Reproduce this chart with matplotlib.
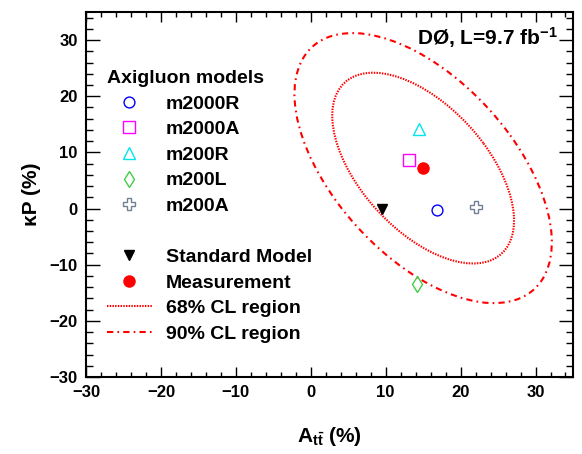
import numpy as np
import matplotlib
matplotlib.use("Agg")
import matplotlib.pyplot as plt
from matplotlib.patches import Ellipse
from matplotlib.lines import Line2D
from matplotlib.ticker import MultipleLocator

plt.rcParams["font.family"] = ["Liberation Sans", "DejaVu Sans"]
plt.rcParams["font.weight"] = "bold"
plt.rcParams["mathtext.fontset"] = "custom"
plt.rcParams["mathtext.rm"] = "Liberation Sans:bold"
plt.rcParams["mathtext.bf"] = "Liberation Sans:bold"
plt.rcParams["mathtext.it"] = "Liberation Sans:bold"

# =============================================================================
# Data
# =============================================================================
model_names = ["m2000R", "m2000A", "m200R", "m200L", "m200A"]
model_att = [16.8, 13.1, 14.4, 14.2, 22.0]
model_kp = [-0.3, 8.7, 14.2, -13.4, 0.2]

sm_att = [9.5]
sm_kp = [0.0]

meas_att = [15.0]
meas_kp = [7.2]

# Gaussian approximation of the measurement contours
sigma_att = 8.0
sigma_kp = 11.2
rho = -0.55
cl_labels = ["68% CL region", "90% CL region"]
cl_chi2 = [2.30, 4.61]

# =============================================================================
# Plot
# =============================================================================
fig = plt.figure(figsize=(5.82, 4.54), dpi=100)
ax = fig.add_axes([0.1478, 0.1696, 0.8367, 0.8040])

red = "#ff0000"
cl_styles = [(0, (0.7, 0.6)), (0, (3.0, 2.0, 0.8, 2.0))]

cov = np.array([[sigma_att ** 2, rho * sigma_att * sigma_kp],
                [rho * sigma_att * sigma_kp, sigma_kp ** 2]])
evals, evecs = np.linalg.eigh(cov)
angle = np.degrees(np.arctan2(evecs[1, 1], evecs[0, 1]))
for k, ls in zip(cl_chi2, cl_styles):
    ell = Ellipse((meas_att[0], meas_kp[0]),
                  width=2 * np.sqrt(k * evals[1]),
                  height=2 * np.sqrt(k * evals[0]),
                  angle=angle, fill=False, edgecolor=red,
                  linewidth=1.5, linestyle=ls)
    ax.add_patch(ell)

model_styles = [
    dict(marker="o", color="#0000ff", ms=7.8),
    dict(marker="s", color="#ff00ff", ms=8.0),
    dict(marker="^", color="#00e5ee", ms=8.4),
    dict(marker="d", color="#44cc44", ms=8.0),
    dict(marker="P", color="#708090", ms=8.6),
]

handles = []
labels = []
for name, xa, yk, st in zip(model_names, model_att, model_kp, model_styles):
    h, = ax.plot([xa], [yk], linestyle="none", marker=st["marker"],
                 markersize=st["ms"], markerfacecolor="none",
                 markeredgecolor=st["color"], markeredgewidth=1.0)
    handles.append(h)
    labels.append(name)

h_sm, = ax.plot(sm_att, sm_kp, linestyle="none", marker="v",
                markersize=7.5, color="black")
h_meas, = ax.plot(meas_att, meas_kp, linestyle="none", marker="o",
                  markersize=8, color=red)

blank = Line2D([], [], linestyle="none")
handles += [blank, h_sm, h_meas]
labels += [" ", "Standard Model", "Measurement"]
for lab, ls in zip(cl_labels, cl_styles):
    handles.append(Line2D([], [], color=red, linewidth=1.5, linestyle=ls))
    labels.append(lab)

leg = ax.legend(handles, labels, loc="upper left",
                bbox_to_anchor=(0.043, 0.841), frameon=False,
                fontsize=14, numpoints=1, handlelength=2.3,
                handletextpad=0.72, labelspacing=0.41, borderpad=0,
                borderaxespad=0, title="Axigluon models",
                title_fontproperties={"size": 14, "weight": "bold"},
                alignment="left")

ax.text(0.969, 0.93, r"DØ, L=9.7 fb$^{-1}$", transform=ax.transAxes,
        ha="right", va="center", fontsize=15, fontweight="bold")

# -------------------------
# Axes
# -------------------------
ax.set_xlim(-30, 35)
ax.set_ylim(-30, 35)
ax.xaxis.set_major_locator(MultipleLocator(10))
ax.xaxis.set_minor_locator(MultipleLocator(2))
ax.yaxis.set_major_locator(MultipleLocator(10))
ax.yaxis.set_minor_locator(MultipleLocator(2))

ax.tick_params(axis="both", which="both", direction="in",
               top=True, right=True, labelsize=12, width=1.0)
ax.tick_params(axis="x", which="major", length=7.4, pad=6)
ax.tick_params(axis="x", which="minor", length=3.7)
ax.tick_params(axis="y", which="major", length=10, pad=6)
ax.tick_params(axis="y", which="minor", length=5)
for lab in ax.get_xticklabels() + ax.get_yticklabels():
    lab.set_fontweight("bold")
for sp in ax.spines.values():
    sp.set_linewidth(1.5)

ax.set_xlabel(r"A$_{\mathrm{t\bar{t}}}$ (%)", fontsize=15,
              fontweight="bold", labelpad=18)
ax.set_ylabel("κP (%)", fontsize=15, fontweight="bold", labelpad=6)

fig.savefig("out.png", dpi=100)
plt.close(fig)
